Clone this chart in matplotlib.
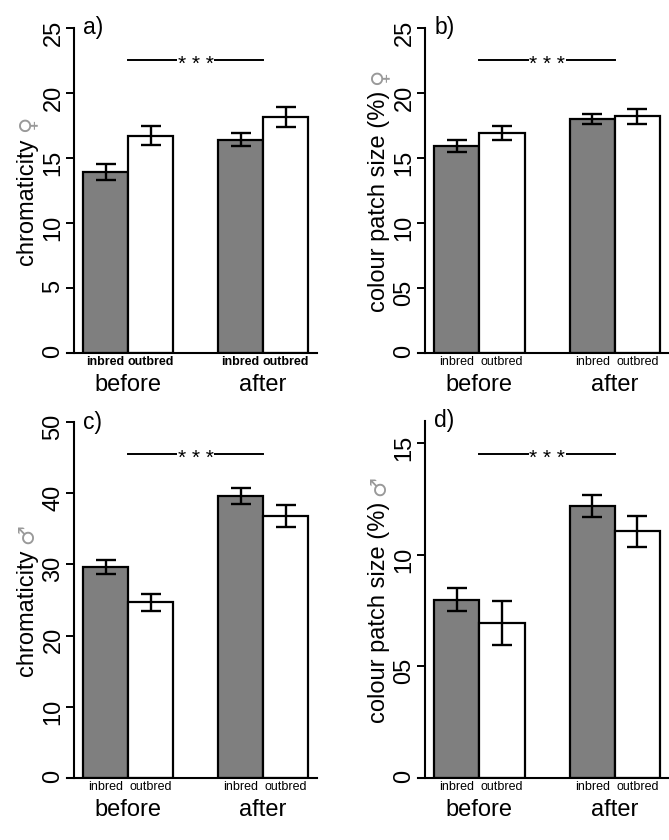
import matplotlib
matplotlib.use('Agg')
import matplotlib.pyplot as plt

plt.rcParams['font.family'] = ['Liberation Sans', 'DejaVu Sans']

# ---- data (order: before-inbred, before-outbred, after-inbred, after-outbred)
groups = ['before', 'after']
lines = ['inbred', 'outbred']
panel_tags = ['a)', 'b)', 'c)', 'd)']
ylabels = ['chromaticity', 'colour patch size (%)', 'chromaticity', 'colour patch size (%)']
sexes = ['\u2640', '\u2640', '\u2642', '\u2642']

chrom_f_mean = [13.9, 16.7, 16.4, 18.15]
chrom_f_se = [0.6, 0.73, 0.5, 0.75]
patch_f_mean = [15.9, 16.9, 18.0, 18.2]
patch_f_se = [0.45, 0.55, 0.4, 0.6]
chrom_m_mean = [29.6, 24.7, 39.6, 36.8]
chrom_m_se = [1.0, 1.2, 1.1, 1.6]
patch_m_mean = [8.0, 6.95, 12.2, 11.05]
patch_m_se = [0.5, 1.0, 0.5, 0.7]

yticks_a = [0, 5, 10, 15, 20, 25]
yticklabels_a = ['0', '5', '10', '15', '20', '25']
yticks_b = [0, 5, 10, 15, 20, 25]
yticklabels_b = ['0', '05', '10', '15', '20', '25']
yticks_c = [0, 10, 20, 30, 40, 50]
yticklabels_c = ['0', '10', '20', '30', '40', '50']
yticks_d = [0, 5, 10, 15]
yticklabels_d = ['0', '05', '10', '15']
ytops = [25, 25, 50, 16]
sig_levels = [22.5, 22.5, 45.5, 14.5]
sig_text = '* * *'

means = [chrom_f_mean, patch_f_mean, chrom_m_mean, patch_m_mean]
ses = [chrom_f_se, patch_f_se, chrom_m_se, patch_m_se]
yticks = [yticks_a, yticks_b, yticks_c, yticks_d]
yticklabels = [yticklabels_a, yticklabels_b, yticklabels_c, yticklabels_d]

W, H = 669, 840
fig = plt.figure(figsize=(W / 100, H / 100), dpi=100)

# axes rectangles in pixels: left, bottom(y from top), width, top(y from top)
rects_px = [(67, 353, 250, 28), (418, 353, 251, 28), (67, 778, 250, 422), (418, 778, 251, 421)]
label_x_px = [33, 385, 33, 385]

# R-style barplot positions: width 1, space c(0,1)
lefts = [1, 2, 4, 5]
centers = [l + 0.5 for l in lefts]
group_centers = [2, 5]
colors = ['#7f7f7f', 'white', '#7f7f7f', 'white']

axes = []
for i in range(4):
    l, b, w, t = rects_px[i]
    ax = fig.add_axes([l / W, (H - b) / H, w / W, (b - t) / H])
    axes.append(ax)
    ax.bar(centers, means[i], width=1.0, color=colors, edgecolor='black', linewidth=1.6, zorder=2)
    ax.errorbar(centers, means[i], yerr=ses[i], fmt='none', ecolor='black', elinewidth=1.7,
                capsize=7, capthick=1.7, zorder=3)
    ax.set_xlim(0.64, 6.2)
    ax.set_ylim(0, ytops[i])
    ax.set_xticks([])
    ax.set_yticks(yticks[i])
    ax.set_yticklabels(yticklabels[i])
    ax.tick_params(axis='y', length=5.5, width=1.4, pad=1.5, labelsize=17, labelrotation=90)
    for lab in ax.get_yticklabels():
        lab.set_va('center')
    for s in ['top', 'right']:
        ax.spines[s].set_visible(False)
    ax.spines['left'].set_position(('data', 0.8))
    ax.spines['left'].set_bounds(0, ytops[i])
    ax.spines['left'].set_linewidth(1.5)
    ax.spines['bottom'].set_linewidth(1.5)
    ax.patch.set_alpha(0)

    # panel tag
    ax.text(lefts[0], ytops[i], panel_tags[i], ha='left', va='center', fontsize=16.5, clip_on=False)

    # significance line
    ax.plot(group_centers, [sig_levels[i]] * 2, color='black', lw=1.4, zorder=2)
    ax.annotate(sig_text, xy=(sum(group_centers) / 2, sig_levels[i]), xytext=(0, -4),
                textcoords='offset pixels', ha='center', va='center', fontsize=15,
                bbox=dict(facecolor='white', edgecolor='none', pad=0.5), zorder=4)

    # category labels
    for c, name in zip(centers, lines * 2):
        ax.annotate(name, xy=(c, 0), xycoords=('data', 'axes fraction'), xytext=(0, -9),
                    textcoords='offset pixels', ha='center', va='center', fontsize=9,
                    fontweight='bold' if i == 0 else 'normal')
    for g, name in zip(group_centers, groups):
        ax.annotate(name, xy=(g, 0), xycoords=('data', 'axes fraction'), xytext=(0, -32),
                    textcoords='offset pixels', ha='center', va='center', fontsize=17)

# y labels with grey sex symbols
fig.canvas.draw()
renderer = fig.canvas.get_renderer()
for i in range(4):
    l, b, w, t = rects_px[i]
    cy = (b + t) / 2
    fx = label_x_px[i] / W
    t1 = fig.text(fx, 0.5, ylabels[i], rotation=90, rotation_mode='anchor', ha='center',
                  va='baseline', fontsize=17)
    t2 = fig.text(fx, 0.5, sexes[i], rotation=90, rotation_mode='anchor', ha='center',
                  va='baseline', fontsize=16, color='#999999', family='DejaVu Sans')
    h1 = t1.get_window_extent(renderer).height
    h2 = t2.get_window_extent(renderer).height
    gap = 6
    total = h1 + gap + h2
    bottom_px = (H - cy) - total / 2
    t1.set_y((bottom_px + h1 / 2) / H)
    t2.set_y((bottom_px + h1 + gap + h2 / 2) / H)

fig.savefig('out.png', dpi=100)
